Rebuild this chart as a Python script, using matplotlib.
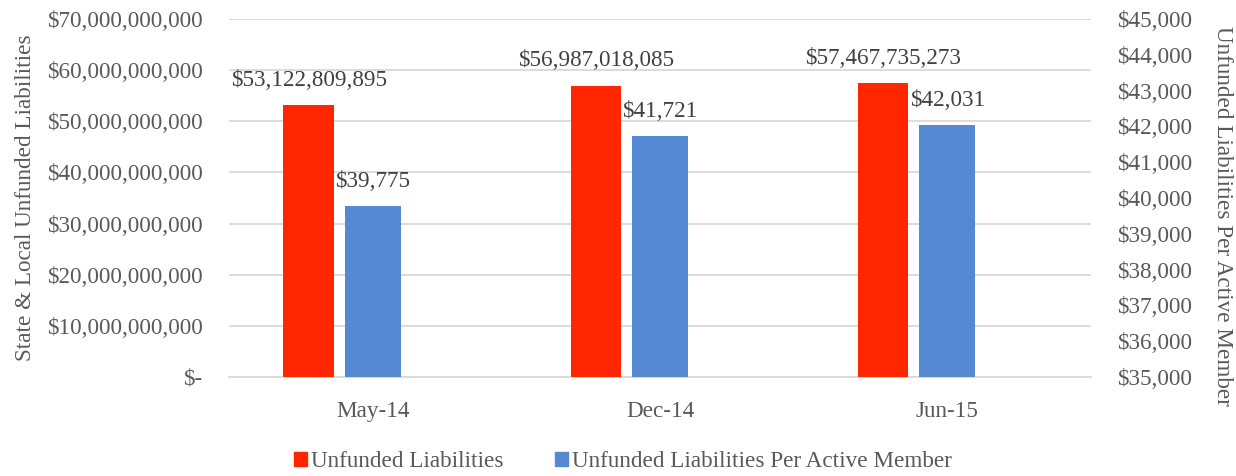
import matplotlib
matplotlib.use("Agg")
import numpy as np
import matplotlib.pyplot as plt
from matplotlib.ticker import FuncFormatter, MultipleLocator
from matplotlib.patches import Patch

# data
periods = ["May-14", "Dec-14", "Jun-15"]
unfunded_total = [53122809895, 56987018085, 57467735273]
unfunded_per_member = [39775, 41721, 42031]

red = "#FF2600"
blue = "#558AD3"
txt = "#595959"
grid = "#D9D9D9"
fs = 16.7

plt.rcParams["font.family"] = ["Liberation Serif", "DejaVu Serif"]
plt.rcParams["font.size"] = fs

fig = plt.figure(figsize=(12.36, 4.76), dpi=100)
ax = fig.add_axes([0.1853, 0.208, 0.6974, 0.752])
ax2 = ax.twinx()

x = np.arange(len(periods))
b1 = ax.bar(x - 0.223, unfunded_total, width=0.175, color=red, zorder=3)
b2 = ax2.bar(x, unfunded_per_member, width=0.195, color=blue, zorder=3)

ax.set_xlim(-0.5, 2.5)
ax.set_ylim(0, 70e9)
ax.yaxis.set_major_locator(MultipleLocator(10e9))
ax2.set_ylim(35000, 45000)
ax2.yaxis.set_major_locator(MultipleLocator(1000))

def fmt_left(v, pos):
    if v == 0:
        return "$-"
    return "${:,.0f}".format(v)

ax.yaxis.set_major_formatter(FuncFormatter(fmt_left))
ax2.yaxis.set_major_formatter(FuncFormatter(lambda v, p: "${:,.0f}".format(v)))

ax.set_xticks(x)
ax.set_xticklabels(periods)

ax.grid(axis="y", color=grid, linewidth=1.3, zorder=0)
ax.set_axisbelow(True)
for a in (ax, ax2):
    for s in a.spines.values():
        s.set_visible(False)
ax.spines["bottom"].set_visible(True)
ax.spines["bottom"].set_color(grid)
ax.spines["bottom"].set_linewidth(1.3)

ax.tick_params(axis="y", length=0, pad=19, colors=txt, labelsize=fs)
ax.tick_params(axis="x", length=0, pad=17, colors=txt, labelsize=fs)
ax2.tick_params(axis="y", length=0, pad=19, colors=txt, labelsize=fs)

ax.set_ylabel("State & Local Unfunded Liabilities", color=txt, fontsize=fs, labelpad=8)
ax2.set_ylabel("Unfunded Liabilities Per Active Member", color=txt, fontsize=fs,
               rotation=270, labelpad=14, va="bottom")
ax2.yaxis.label.set_y(0.45)  # the reference sits a little lower on the right

# data labels
for rect, v in zip(b1, unfunded_total):
    ax.annotate("${:,.0f}".format(v), (rect.get_x() + rect.get_width() / 2, rect.get_height()),
                xytext=(0, 18), textcoords="offset points", ha="center", va="center",
                color="#404040", fontsize=fs)
for rect, v in zip(b2, unfunded_per_member):
    ax2.annotate("${:,.0f}".format(v), (rect.get_x() + rect.get_width() / 2, rect.get_height()),
                 xytext=(0, 18), textcoords="offset points", ha="center", va="center",
                 color="#404040", fontsize=fs)

handles = [Patch(color=red), Patch(color=blue)]
fig.legend(handles, ["Unfunded Liabilities", "Unfunded Liabilities Per Active Member"],
           loc="center", bbox_to_anchor=(0.504, 0.03), ncol=2, frameon=False,
           handlelength=0.55, handleheight=0.55, handletextpad=0.2, columnspacing=2.2,
           labelcolor=txt, fontsize=fs)

fig.savefig("out.png", dpi=100)
